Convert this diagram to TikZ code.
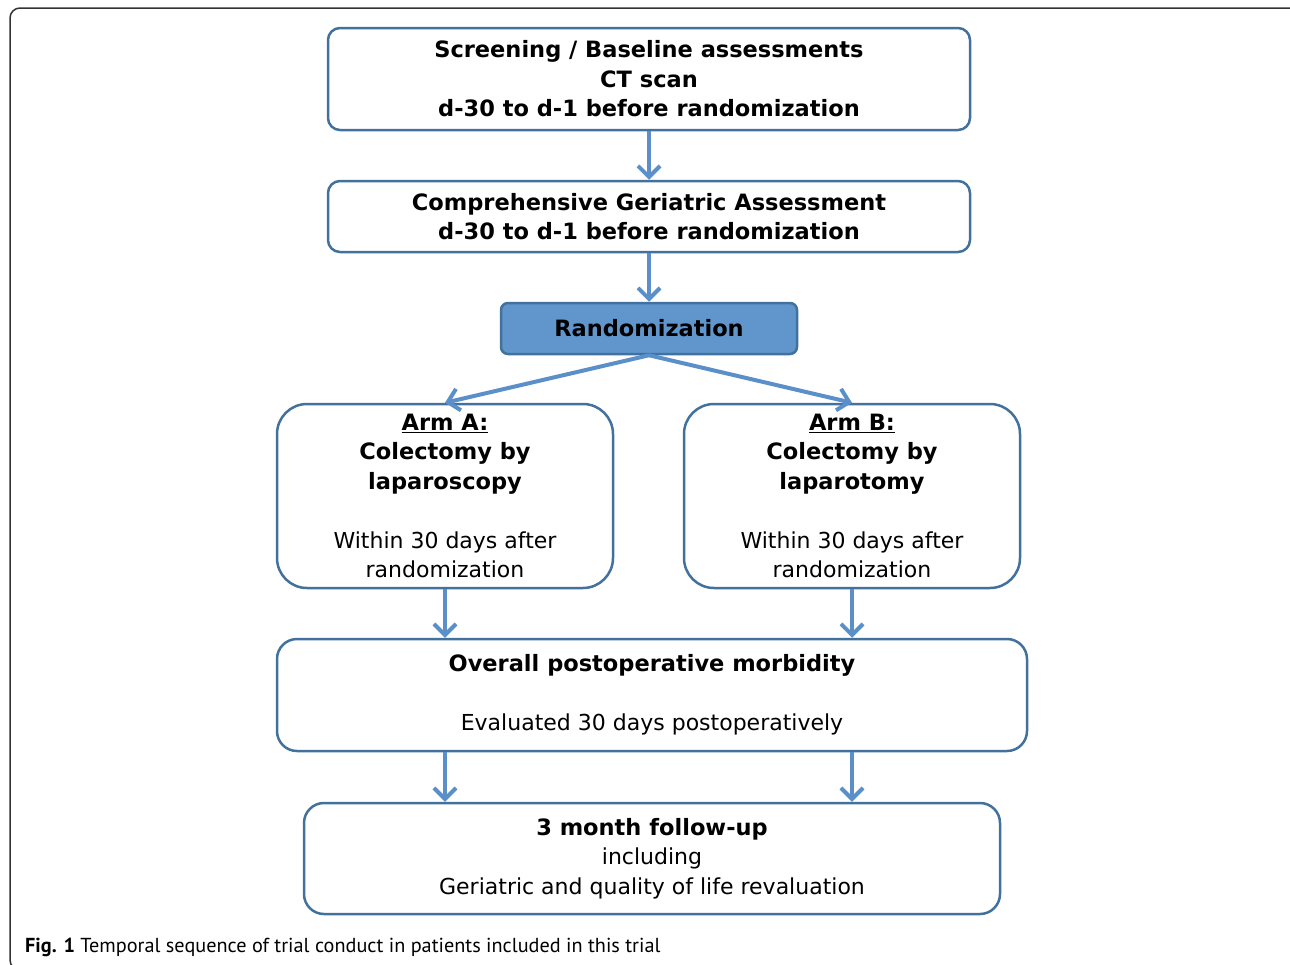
\documentclass[tikz,border=0pt]{standalone}
\usepackage{fontspec}
\setmainfont{DejaVu Sans}
\newfontfamily\capfont{PT Sans}
\usetikzlibrary{arrows.meta}
\definecolor{boxline}{RGB}{65,113,156}
\definecolor{randfill}{RGB}{96,150,204}
\definecolor{arrowblue}{RGB}{90,143,201}
\newcommand{\bt}[1]{{\fontsize{22.5}{29.5}\selectfont\bfseries #1}}

\begin{document}
\begin{tikzpicture}[x = 1pt, y = -1pt,
  box/.style = {draw = boxline, line width = 2.5pt, rounded corners = 12pt, inner sep = 0pt,
    align = center, font = \fontsize{22}{29.5}\selectfont},
  arr/.style = {draw = arrowblue, line width = 4pt, -{Straight Barb[length = 11pt, width = 22pt]}}]
\useasboundingbox (0, 0) rectangle (1290, 964);
% Frame
\draw[line width = 1.5pt, black!80, rounded corners = 10pt] (10, 8) rectangle (1310, 970);
% Boxes
\node[box, minimum width = 642, minimum height = 102] (screen) at (649, 79)
  {\bt{Screening / Baseline assessments}\\ \bt{CT scan}\\ \bt{d-30 to d-1 before randomization}};
\node[box, minimum width = 642, minimum height = 71] (cga) at (649, 216.5)
  {\bt{Comprehensive Geriatric Assessment}\\ \bt{d-30 to d-1 before randomization}};
\node[box, fill = randfill, rounded corners = 7pt, minimum width = 296, minimum height = 51] (rand) at (649, 328.5)
  {\bt{Randomization}};
\node[box, rounded corners = 30pt, minimum width = 336, minimum height = 184] (armA) at (445, 496)
  {\bt{\underline{Arm A:}}\\ \bt{Colectomy by}\\ \bt{laparoscopy}\\[29.5pt] Within 30 days after\\ randomization};
\node[box, rounded corners = 30pt, minimum width = 336, minimum height = 184] (armB) at (852, 496)
  {\bt{\underline{Arm B:}}\\ \bt{Colectomy by}\\ \bt{laparotomy}\\[29.5pt] Within 30 days after\\ randomization};
\node[box, rounded corners = 20pt, minimum width = 750, minimum height = 112] (overall) at (652, 695)
  {\bt{Overall postoperative morbidity}\\[29.5pt] Evaluated 30 days postoperatively};
\node[box, rounded corners = 20pt, minimum width = 696, minimum height = 111] (follow) at (652, 858.5)
  {\bt{3 month follow-up}\\ including\\ Geriatric and quality of life revaluation};
% Arrows
\draw[arr] (screen) -- (cga);
\draw[arr] (cga) -- (rand);
\draw[arr] (rand.south) -- (armA.north);
\draw[arr] (rand.south) -- (armB.north);
\draw[arr] (armA.south) -- (armA.south |- overall.north);
\draw[arr] (armB.south) -- (armB.south |- overall.north);
\draw[arr] (overall.south -| armA) -- (follow.north -| armA);
\draw[arr] (overall.south -| armB) -- (follow.north -| armB);
% Caption
\node[anchor = west, inner sep = 0pt, font = \capfont\fontsize{20.25}{24}\selectfont] (caption) at (25, 947)
  {\textbf{Fig. 1} Temporal sequence of trial conduct in patients included in this trial};
\end{tikzpicture}
\end{document}
